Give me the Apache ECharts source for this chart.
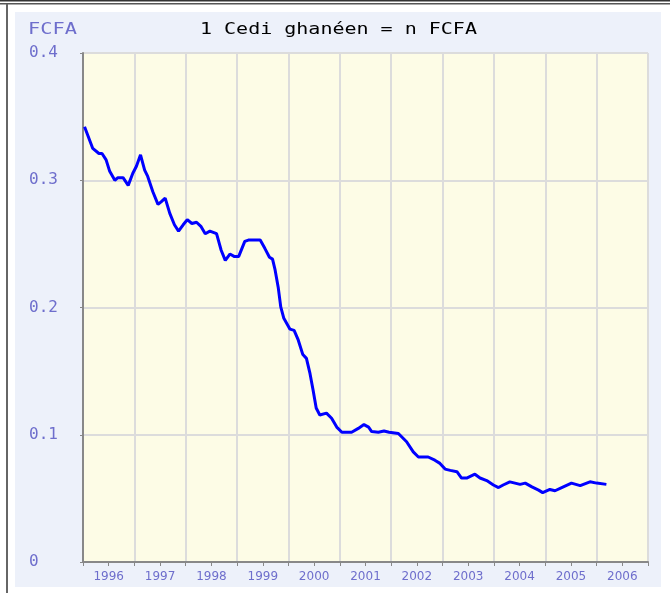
<!DOCTYPE html>
<html>
<head>
<meta charset="utf-8">
<script src="https://cdn.jsdelivr.net/npm/echarts@6/dist/echarts.min.js"></script>
<style>
  html, body { margin: 0; padding: 0; background: #fff; }
</style>
</head>
<body>
<div id="main" style="width: 670px;height:593px;"></div>
<script>
// year labels under the axis (one per year band)
var yearLabels = ['1996', '1997', '1998', '1999', '2000', '2001', '2002', '2003', '2004', '2005', '2006'];
// y axis ticks
var yTicks = [0, 0.1, 0.2, 0.3, 0.4];
// dates as decimal years
var dates = [
    1996.03, 1996.19, 1996.31, 1996.37, 1996.45, 1996.52, 1996.62, 1996.68, 1996.78, 1996.88, 1996.97,
    1997.04, 1997.12, 1997.20, 1997.26, 1997.36, 1997.46, 1997.52, 1997.60, 1997.69, 1997.78, 1997.86, 1997.95,
    1998.03, 1998.12, 1998.21, 1998.30, 1998.38, 1998.47, 1998.60, 1998.69, 1998.77, 1998.86, 1998.95,
    1999.03, 1999.15, 1999.22, 1999.45, 1999.54, 1999.63, 1999.69, 1999.74, 1999.80, 1999.85, 1999.91,
    2000.03, 2000.11, 2000.19, 2000.28, 2000.35, 2000.42, 2000.48, 2000.54, 2000.61, 2000.74, 2000.84, 2000.94,
    2001.04, 2001.23, 2001.36, 2001.47, 2001.56, 2001.62, 2001.75, 2001.86, 2001.96,
    2002.14, 2002.30, 2002.43, 2002.53, 2002.72, 2002.85, 2002.95,
    2003.05, 2003.15, 2003.28, 2003.37, 2003.47, 2003.63, 2003.73, 2003.86, 2003.99,
    2004.09, 2004.18, 2004.31, 2004.41, 2004.51, 2004.61, 2004.74, 2004.87, 2004.95,
    2005.09, 2005.19, 2005.32, 2005.51, 2005.68, 2005.87, 2006.00, 2006.19
];
// 1 cedi = n FCFA
var rates = [
    0.342, 0.325, 0.321, 0.321, 0.316, 0.307, 0.300, 0.302, 0.302, 0.296, 0.3055,
    0.311, 0.320, 0.308, 0.303, 0.291, 0.281, 0.283, 0.286, 0.274, 0.265, 0.260, 0.265,
    0.269, 0.266, 0.267, 0.2635, 0.258, 0.260, 0.258, 0.245, 0.237, 0.242, 0.240,
    0.240, 0.252, 0.253, 0.253, 0.2465, 0.2395, 0.238, 0.2295, 0.216, 0.2005, 0.1915,
    0.183, 0.182, 0.1745, 0.163, 0.160, 0.148, 0.135, 0.121, 0.1155, 0.117, 0.113, 0.106,
    0.102, 0.102, 0.105, 0.108, 0.106, 0.1025, 0.102, 0.103, 0.102,
    0.101, 0.0945, 0.0865, 0.0825, 0.0825, 0.080, 0.0775,
    0.073, 0.072, 0.071, 0.066, 0.066, 0.069, 0.066, 0.064, 0.0605,
    0.0585, 0.0605, 0.063, 0.062, 0.061, 0.062, 0.059, 0.0565, 0.0545,
    0.057, 0.056, 0.0585, 0.062, 0.060, 0.063, 0.062, 0.061
];

var labelColor = '#6e6ecc';
var mono = 'DejaVu Sans Mono';

var myChart = echarts.init(document.getElementById('main'));

var datas = [];
for (var i = 0; i < dates.length; i++) {
    datas.push([dates[i], rates[i]]);
}

var option = {
    animation: false,
    backgroundColor: '#fff',
    graphic: [
        // outer frame lines
        { type: 'rect', z: -10, shape: { x: 0, y: 0, width: 670, height: 1.5 }, style: { fill: '#333' } },
        { type: 'rect', z: -10, shape: { x: 0, y: 3, width: 670, height: 1.5 }, style: { fill: '#555' } },
        { type: 'rect', z: -10, shape: { x: 6, y: 4, width: 2, height: 589 }, style: { fill: '#666' } },
        // light panel behind the chart
        { type: 'rect', z: -10, shape: { x: 15, y: 12, width: 646, height: 575 }, style: { fill: '#edf1fa' } },
        {
            type: 'text', x: 28, y: 30, scaleX: 1.27,
            style: { text: 'FCFA', fill: labelColor, font: '16px "' + mono + '"', verticalAlign: 'middle' }
        },
        {
            type: 'text', x: 200, y: 30, scaleX: 1.25,
            style: { text: '1 Cedi ghanéen = n FCFA', fill: '#000', font: '16px "' + mono + '"', verticalAlign: 'middle' }
        }
    ],
    grid: {
        left: 83, top: 53, right: 22, bottom: 31,
        show: true,
        backgroundColor: '#fdfce6',
        borderWidth: 0
    },
    xAxis: [{
        type: 'value',
        min: 1996, max: 2007, interval: 1,
        axisLine: { show: true, onZero: false, lineStyle: { color: '#888', width: 2 } },
        axisTick: { show: true, length: 4, lineStyle: { color: '#888' } },
        minorTick: { show: true, splitNumber: 2, length: 4, lineStyle: { color: '#888' } },
        axisLabel: { show: false },
        splitLine: { show: true, lineStyle: { color: '#dcdcdc', width: 2 } }
    }, {
        type: 'category',
        data: yearLabels,
        position: 'bottom',
        boundaryGap: true,
        axisLine: { show: false },
        axisTick: { show: false },
        splitLine: { show: false },
        axisLabel: { color: labelColor, fontFamily: 'DejaVu Sans', fontSize: 12, margin: 9 }
    }],
    yAxis: {
        type: 'value',
        min: yTicks[0], max: yTicks[yTicks.length - 1], interval: 0.1,
        axisLine: { show: true, lineStyle: { color: '#888', width: 2 } },
        axisTick: { show: true, length: 3, lineStyle: { color: '#888' } },
        axisLabel: {
            color: labelColor, fontFamily: mono, fontSize: 16,
            align: 'left', margin: 54,
            formatter: function (v) { return v === 0 ? '0' : v.toFixed(1); }
        },
        splitLine: { show: true, lineStyle: { color: '#dcdcdc', width: 2 } }
    },
    series: [{
        type: 'line',
        xAxisIndex: 0,
        data: datas,
        symbol: 'none',
        smooth: false,
        lineStyle: { color: '#0000ff', width: 3 }
    }]
};
myChart.setOption(option);
</script>
</body>
</html>
